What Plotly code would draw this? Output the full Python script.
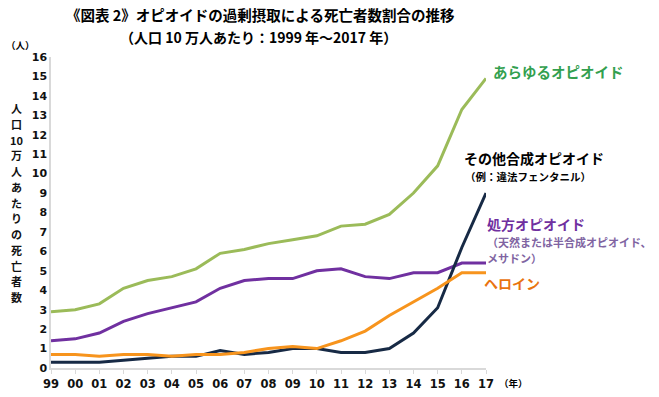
import plotly.graph_objects as go

years = ["99", "00", "01", "02", "03", "04", "05", "06", "07", "08",
         "09", "10", "11", "12", "13", "14", "15", "16", "17"]
all_opioids = [2.9, 3.0, 3.3, 4.1, 4.5, 4.7, 5.1, 5.9, 6.1, 6.4,
               6.6, 6.8, 7.3, 7.4, 7.9, 9.0, 10.4, 13.3, 14.9]
prescription = [1.4, 1.5, 1.8, 2.4, 2.8, 3.1, 3.4, 4.1, 4.5, 4.6,
                4.6, 5.0, 5.1, 4.7, 4.6, 4.9, 4.9, 5.4, 5.4]
heroin = [0.7, 0.7, 0.6, 0.7, 0.7, 0.6, 0.7, 0.7, 0.8, 1.0,
          1.1, 1.0, 1.4, 1.9, 2.7, 3.4, 4.1, 4.9, 4.9]
synthetic = [0.3, 0.3, 0.3, 0.4, 0.5, 0.6, 0.6, 0.9, 0.7, 0.8,
             1.0, 1.0, 0.8, 0.8, 1.0, 1.8, 3.1, 6.2, 9.0]
y_ticks = list(range(0, 17))
y_title_chars = ["人", "口", "10", "万", "人", "あ", "た", "り", "の",
                 "死", "亡", "者", "数"]

idx = list(range(len(years)))
JP = "Noto Sans CJK JP"
NUM = "DejaVu Sans"

fig = go.Figure()
series = [
    (all_opioids, "#9bbb59"),
    (prescription, "#7030a0"),
    (synthetic, "#172a45"),
    (heroin, "#f7941d"),
]
for vals, col in series:
    fig.add_trace(go.Scatter(x=idx, y=vals, mode="lines",
                             line=dict(color=col, width=3),
                             hoverinfo="skip", showlegend=False))

L, R, T, B = 51, 486, 57, 368
W, H = R - L, B - T


def px(x):
    return (x - L) / W


def py(y):
    return (B - y) / H


ann = []


def add(text, x, y, size, color="#000", xanchor="left", yanchor="middle",
        align="left", family=JP, weight="bold"):
    ann.append(dict(text=text, x=px(x), y=py(y), xref="paper", yref="paper",
                    xanchor=xanchor, yanchor=yanchor, align=align,
                    showarrow=False,
                    font=dict(family=family, size=size, color=color,
                              weight=weight)))


add("《図表 2》オピオイドの過剰摂取による死亡者数割合の推移", 260, 14, 14.5,
    xanchor="center")
add("（人口 10 万人あたり：1999 年～2017 年）", 258, 37, 14, xanchor="center")
add("（人）", 20, 45, 9.5, xanchor="center")
add("（年）", 513, 383, 9.5, xanchor="center")
for i, ch in enumerate(y_title_chars):
    add(ch, 16, 108 + i * 15.75, 11, color="#111", xanchor="center",
        align="center")
add("あらゆるオピオイド", 491, 71, 14.5, color="#33a04f")
add("その他合成オピオイド", 462, 158, 14, color="#000")
add("（例：違法フェンタニル）", 463, 176, 10.5, color="#000")
add("処方オピオイド", 485, 224, 14, color="#7030a0")
add("（天然または半合成オピオイド、", 485, 242, 11, color="#8064a2")
add("メサドン）", 485, 258, 11, color="#8064a2")
add("ヘロイン", 482, 283, 14, color="#e9730f")

fig.update_layout(
    width=659, height=397,
    margin=dict(l=L, r=659 - R, t=T, b=397 - B),
    paper_bgcolor="white", plot_bgcolor="white",
    annotations=ann,
    xaxis=dict(range=[0, 18], tickmode="array", tickvals=idx, ticktext=years,
               automargin=False,
               showgrid=False, zeroline=False, showline=True,
               linecolor="#d9d9d9", linewidth=1.5,
               ticks="outside", ticklen=4, tickcolor="#d9d9d9",
               tickfont=dict(family=NUM, size=11.5, color="#111",
                             weight="bold")),
    yaxis=dict(range=[0, 16], tickmode="array", tickvals=y_ticks,
               automargin=False,
               showgrid=False, zeroline=False, showline=True,
               linecolor="#d9d9d9", linewidth=1.5, ticks="",
               tickfont=dict(family=NUM, size=11, color="#111",
                             weight="bold")),
)

fig.write_html("out.html",
               config={"displayModeBar": False},
               post_script="document.body.style.margin='0';"
                           "document.body.style.padding='0';")
